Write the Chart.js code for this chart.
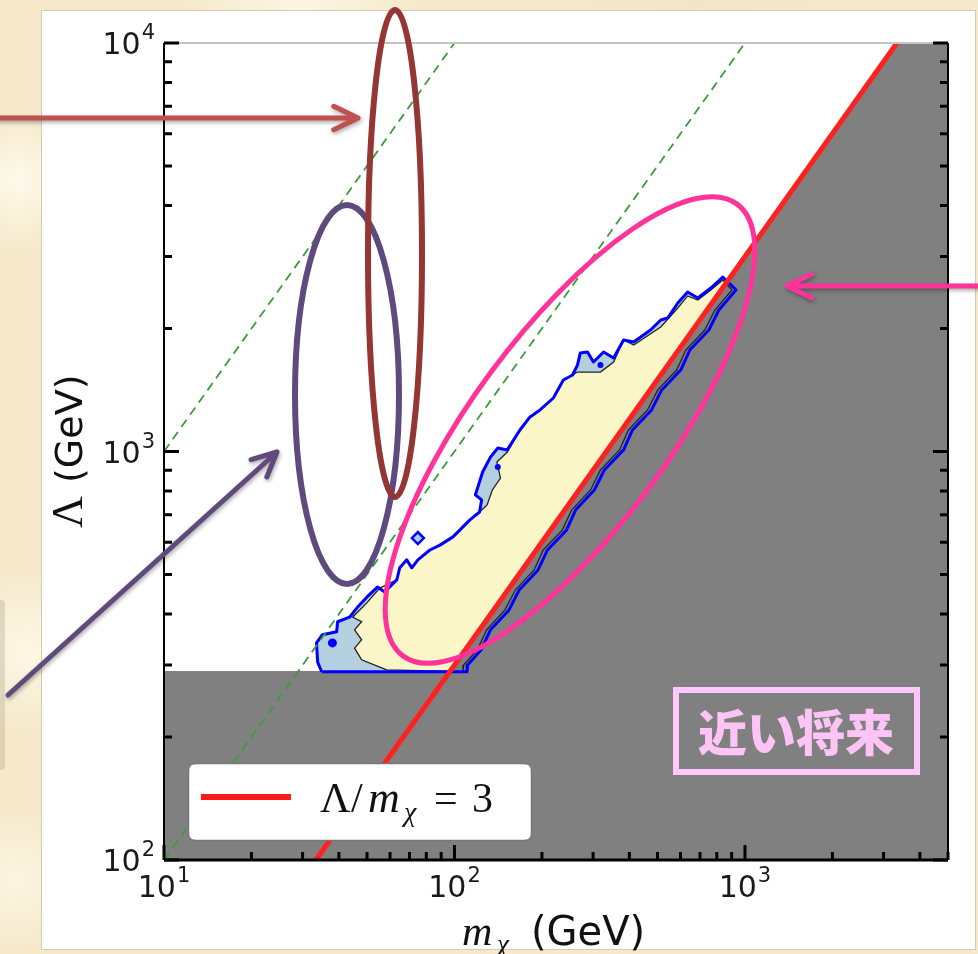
<!DOCTYPE html>
<html><head><meta charset="utf-8">
<script src="https://cdn.jsdelivr.net/npm/chart.js@4/dist/chart.umd.min.js"></script>
<style>
html,body{margin:0;padding:0;}
body{width:978px;height:954px;overflow:hidden;position:relative;
background-color:#f6e9cb;
background-image:
 radial-gradient(circle at 18px 180px, rgba(255,252,240,.85) 0, rgba(255,252,240,0) 70px),
 radial-gradient(circle at 25px 650px, rgba(255,251,236,.8) 0, rgba(255,251,236,0) 80px),
 radial-gradient(circle at 15px 880px, rgba(255,250,234,.7) 0, rgba(255,250,234,0) 70px),
 radial-gradient(circle at 300px 0px, rgba(255,251,236,.7) 0, rgba(255,251,236,0) 120px),
 radial-gradient(circle at 700px 5px, rgba(240,226,192,.5) 0, rgba(240,226,192,0) 120px);}
#edge{position:absolute;left:0;top:600px;width:5px;height:170px;background:rgba(150,140,120,.25);border-radius:0 4px 4px 0;}
#c{position:absolute;left:0;top:0;}
</style></head><body>
<div id="edge"></div>
<canvas id="c" width="978" height="954"></canvas>
<script>
// ---- axes ----
const xTickValues=[10,20,30,40,50,60,70,80,90,100,200,300,400,500,600,700,800,900,1000,2000,3000,4000,5000];
const yTickValues=[100,200,300,400,500,600,700,800,900,1000,2000,3000,4000,5000,6000,7000,8000,9000,10000];
const xMajor=[10,100,1000];
const xMajorExp=['1','2','3'];
const yMajor=[100,1000,10000];
const yMajorExp=['2','3','4'];

// ---- reference lines (m_chi in GeV, Lambda in GeV) ----
const ratio3M=[33.33,3333.3];   const ratio3L=[100,10000];
const ratio10M=[10,1000];       const ratio10L=[100,10000];
const ratio100M=[10,100];       const ratio100L=[1000,10000];

// ---- excluded (gray) region ----
const excludedM=[10,10,96.67,3333.3,5000,5000,10];
const excludedL=[100,290,290,10000,10000,100,100];

// ---- allowed region: outer (blue) contour ----
const outerM=[34.9,33.8,33.5,35.1,39.3,39.6,43.5,46.4,49.9,54.4,57.5,63.3,64.8,68.5,71.3,74.8,82.3,89.1,98.8,104.5,113,122,124,118,125,133,141,152,168,182,197,219,237,255,265,271,287,301,326,353,382,414,473,513,542,587,635,688,763,839,931,813,751,646,601,517,477,410,382,328,303,261,243,209,194,167,154,133,123.5,111,110.5,34.9];
const outerL=[289,305,340,356,362,383,393,416,440,466,453,485,519,543,519,543,574,590,618,643,680,711,761,783,891,969,1020,1009,1129,1215,1264,1352,1496,1539,1628,1742,1752,1656,1752,1694,1875,1854,1983,2099,2122,2310,2458,2376,2513,2674,2486,2220,1983,1772,1583,1415,1264,1129,1009,901,805,719,642,574,513,458,409,366,327,300,289,289];

// ---- allowed region: inner (black) contour ----
const innerM=[58.4,47.9,45.3,47.9,45.3,47.9,44.6,49.9,55.3,63.3,64.8,68.5,71.3,74.8,82.3,89.1,98.8,104.5,113,122,129.5,135,144,140,152,168,182,197,219,237,255,265,318,353,382,414,513,587,635,688,763,839,902,788,727,626,582,501,462,397,370,318,294,253,235,202,188,162,149,129,120,107.5,107,58.4];
const innerL=[292,309,330,346,366,383,393,426,463,485,519,543,519,543,574,590,618,643,680,711,740,805,861,943,997,1129,1215,1264,1352,1496,1539,1565,1565,1656,1875,1823,2017,2245,2403,2349,2486,2630,2486,2220,1983,1772,1583,1415,1264,1129,1009,901,805,719,642,574,513,458,409,366,327,300,289,292];

// ---- small isolated contour islands ----
const islandM=[38.0,74.8,141,318];
const islandL=[340,614,916,1628];

const pts=(m,l)=>m.map((v,i)=>({x:v,y:l[i]}));
const isMajor=(v,arr)=>arr.indexOf(v)>=0;

const panelPlugin={id:'panel',beforeDraw(chart){
  const c=chart.ctx;c.save();
  c.fillStyle='#ffffff';c.fillRect(41,10,935,940);
  c.strokeStyle='#d6cbb0';c.lineWidth=1;c.strokeRect(41.5,10.5,934,939);
  c.restore();
}};

function powLabel(c,x,yBase,exp,align){
  c.font='30px "DejaVu Sans"';const w1=c.measureText('10').width;
  c.font='21px "DejaVu Sans"';const w2=c.measureText(exp).width;
  const tot=w1+w2+1;
  const x0=align==='center'?x-tot/2:x-tot;
  c.textAlign='left';c.textBaseline='alphabetic';
  c.font='30px "DejaVu Sans"';c.fillText('10',x0,yBase);
  c.font='21px "DejaVu Sans"';c.fillText(exp,x0+w1+1,yBase-15);
}

const axesPlugin={id:'axesDraw',afterDatasetsDraw(chart){
  const c=chart.ctx,a=chart.chartArea,xs=chart.scales.x,ys=chart.scales.y;
  c.save();
  c.strokeStyle='#c4c4c4';c.lineWidth=2;
  c.beginPath();c.moveTo(a.left,a.top);c.lineTo(a.right,a.top);c.stroke();
  c.strokeStyle='#000';c.lineWidth=2;
  c.beginPath();c.moveTo(a.left,a.top);c.lineTo(a.left,a.bottom);c.moveTo(a.right,a.top);c.lineTo(a.right,a.bottom);c.stroke();
  c.lineWidth=3;c.beginPath();c.moveTo(a.left,a.bottom);c.lineTo(a.right,a.bottom);c.stroke();
  c.lineWidth=3;c.beginPath();
  xs.ticks.forEach(t=>{const p=xs.getPixelForValue(t.value);const L=isMajor(t.value,xMajor)?15:8;c.moveTo(p,a.bottom);c.lineTo(p,a.bottom-L);});
  ys.ticks.forEach(t=>{const p=ys.getPixelForValue(t.value);const L=isMajor(t.value,yMajor)?15:8;c.moveTo(a.left,p);c.lineTo(a.left+L,p);c.moveTo(a.right,p);c.lineTo(a.right-L,p);});
  c.stroke();
  // tick labels (10^n) at scale positions
  c.fillStyle='#1a1a1a';
  xMajor.forEach((v,i)=>{powLabel(c,xs.getPixelForValue(v),a.bottom+37,xMajorExp[i],'center');});
  yMajor.forEach((v,i)=>{powLabel(c,a.left-9,ys.getPixelForValue(v)+11,yMajorExp[i],'right');});
  c.restore();
}};

function rrect(c,x,y,w,h,r){c.beginPath();c.moveTo(x+r,y);c.lineTo(x+w-r,y);c.quadraticCurveTo(x+w,y,x+w,y+r);c.lineTo(x+w,y+h-r);c.quadraticCurveTo(x+w,y+h,x+w-r,y+h);c.lineTo(x+r,y+h);c.quadraticCurveTo(x,y+h,x,y+h-r);c.lineTo(x,y+r);c.quadraticCurveTo(x,y,x+r,y);c.closePath();}
function arrow(c,x1,y1,x2,y2,color,w){
  c.save();c.strokeStyle=color;c.lineWidth=w;c.lineCap='round';c.lineJoin='round';
  c.shadowColor='rgba(0,0,0,0.35)';c.shadowBlur=4;c.shadowOffsetX=1;c.shadowOffsetY=2;
  const ang=Math.atan2(y2-y1,x2-x1),L=27,s=0.45;
  c.beginPath();c.moveTo(x1,y1);c.lineTo(x2,y2);
  c.moveTo(x2-L*Math.cos(ang-s),y2-L*Math.sin(ang-s));c.lineTo(x2,y2);c.lineTo(x2-L*Math.cos(ang+s),y2-L*Math.sin(ang+s));
  c.stroke();c.restore();
}

const overlayPlugin={id:'overlay',afterDraw(chart){
  const c=chart.ctx;c.save();
  // legend
  rrect(c,188.5,763.5,343,77,7);c.fillStyle='#fff';c.fill();c.strokeStyle='#777';c.lineWidth=1.5;c.stroke();
  c.strokeStyle='#ff1a1a';c.lineWidth=6;c.beginPath();c.moveTo(201,797);c.lineTo(291,797);c.stroke();
  c.fillStyle='#111';c.textBaseline='alphabetic';c.textAlign='left';
  c.font='42px "Liberation Serif"';c.fillText('Λ',320,812);c.fillText('/',351,812);
  c.font='italic 44px "Liberation Serif"';c.fillText('m',368,812);
  c.font='italic 28px "Liberation Serif"';c.fillText('χ',404,821);
  c.font='42px "Liberation Serif"';c.fillText('=',434,812);c.fillText('3',472,812);
  // axis titles
  c.fillStyle='#111';
  c.font='italic 42px "Liberation Serif"';c.fillText('m',462,945);
  c.font='italic 27px "Liberation Serif"';c.fillText('χ',497,953);
  c.font='40px "DejaVu Sans"';c.fillText('(GeV)',531,945);
  c.save();c.translate(82,530);c.rotate(-Math.PI/2);
  c.font='44px "Liberation Serif"';c.fillText('Λ',2,0);
  c.font='38px "DejaVu Sans"';c.fillText('(GeV)',47,0);
  c.restore();
  // label box
  c.strokeStyle='#ffc8fa';c.lineWidth=6;c.strokeRect(676,690,241,82);
  c.fillStyle='#ffc4f6';c.font='900 49px "Noto Sans CJK JP"';c.textAlign='center';c.textBaseline='middle';
  c.fillText('近い将来',796,732);
  // ellipses
  c.lineWidth=6;
  c.strokeStyle='#5f4a7d';c.beginPath();c.ellipse(347,394.5,52,189.5,0,0,Math.PI*2);c.stroke();
  c.strokeStyle='#943634';c.beginPath();c.ellipse(395,253.5,27,243.5,0,0,Math.PI*2);c.stroke();
  c.lineWidth=5;c.strokeStyle='#ff3399';c.beginPath();c.ellipse(570,430,281,98,-53.5*Math.PI/180,0,Math.PI*2);c.stroke();
  // arrows
  arrow(c,-5,118,358,118,'#c0504d',5);
  arrow(c,8,695,277,452,'#604a7b',5);
  arrow(c,990,286,787,286,'#ff3399',5);
  c.restore();
}};

new Chart(document.getElementById('c'),{
  type:'scatter',
  data:{datasets:[
    {label:'region',data:pts(outerM,outerL),showLine:true,fill:'shape',backgroundColor:'#b4d0e0',borderColor:'transparent',borderWidth:0,pointRadius:0,tension:0,order:9},
    {label:'core',data:pts(innerM,innerL),showLine:true,fill:'shape',backgroundColor:'#faf6c8',borderColor:'transparent',borderWidth:0,pointRadius:0,tension:0,order:8},
    {label:'excluded',data:pts(excludedM,excludedL),showLine:true,fill:'shape',backgroundColor:'#808080',borderColor:'transparent',borderWidth:0,pointRadius:0,tension:0,order:7},
    {label:'inner contour',data:pts(innerM,innerL),showLine:true,fill:false,borderColor:'#222',borderWidth:1.3,pointRadius:0,tension:0,order:6},
    {label:'outer contour',data:pts(outerM,outerL),showLine:true,fill:false,borderColor:'#0000ff',borderWidth:3,borderJoinStyle:'round',pointRadius:0,tension:0,order:5},
    {label:'islands',data:pts(islandM,islandL),showLine:false,pointStyle:['circle','rectRot','circle','circle'],pointRadius:[4.5,6,3,3],backgroundColor:['#0000ff','#b4d0e0','#0000ff','#0000ff'],borderColor:'#0000ff',borderWidth:[0,2.5,0,0],order:4},
    {label:'Λ=10mχ',data:pts(ratio10M,ratio10L),showLine:true,fill:false,borderColor:'#3a9d3a',borderWidth:1.8,borderDash:[9,6],pointRadius:0,order:3},
    {label:'Λ=100mχ',data:pts(ratio100M,ratio100L),showLine:true,fill:false,borderColor:'#3a9d3a',borderWidth:1.8,borderDash:[9,6],pointRadius:0,order:3},
    {label:'Λ/mχ = 3',data:pts(ratio3M,ratio3L),showLine:true,fill:false,borderColor:'#ff2020',borderWidth:5,pointRadius:0,order:1}
  ]},
  options:{
    responsive:false,animation:false,events:[],
    layout:{padding:{left:41,right:30,top:43,bottom:0}},
    plugins:{legend:{display:false},tooltip:{enabled:false}},
    scales:{
      x:{type:'logarithmic',min:10,max:5000,
        afterBuildTicks:s=>{s.ticks=xTickValues.map(v=>({value:v}));},
        afterFit:s=>{s.height=94;},
        grid:{display:false,drawTicks:false},border:{display:false},
        ticks:{display:false,autoSkip:false}},
      y:{type:'logarithmic',min:100,max:10000,
        afterBuildTicks:s=>{s.ticks=yTickValues.map(v=>({value:v}));},
        afterFit:s=>{s.width=123;},
        grid:{display:false,drawTicks:false},border:{display:false},
        ticks:{display:false,autoSkip:false}}
    }
  },
  plugins:[panelPlugin,axesPlugin,overlayPlugin]
});
</script></body></html>
